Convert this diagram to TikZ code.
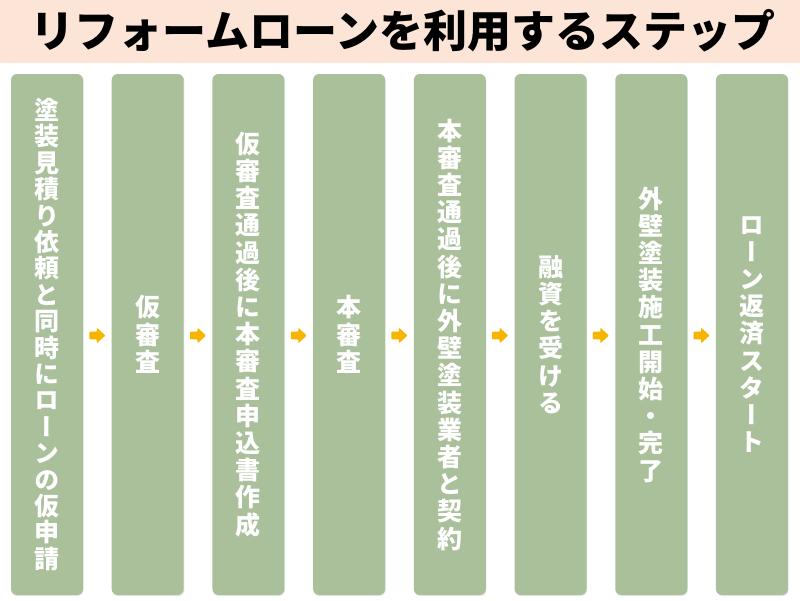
\documentclass[tikz,border=0pt]{standalone}
\usepackage{fontspec}
\usetikzlibrary{calc,shadows}
\newfontfamily\jpfont{Noto Sans CJK JP}
\newfontfamily\jpvfont[RawFeature=+vert]{Noto Sans CJK JP}
\definecolor{titlebg}{HTML}{FCE4D6}
\definecolor{boxgreen}{HTML}{A9C09B}
\definecolor{arroworange}{HTML}{F8B500}
\def\vchA#1{\ifx#1\relax\else\hbox to 1.1em{\hss#1\hss}\expandafter\vchA\fi}
\newcommand\vchars[2]{\vbox{\baselineskip=#1\lineskiplimit=-1000pt\lineskip=0pt\vchA#2\relax}}
\tikzset{
  stepbox/.style={draw=none, fill=boxgreen, rounded corners=6pt, minimum width=72pt, minimum height=521pt, inner sep=0pt, text=white, font=\jpvfont\bfseries\fontsize{25}{27}\selectfont, drop shadow={opacity=0.18, shadow xshift=0.6pt, shadow yshift=-1pt}},
  flowarrow/.style={fill=arroworange, draw=none, rounded corners=0.8pt},
  titletext/.style={font=\jpfont\bfseries\fontsize{44}{48}\selectfont, text=black, inner sep=0pt}
}
\begin{document}
\begin{tikzpicture}[x=1pt,y=-1pt]
\useasboundingbox (0,0) rectangle (800,600);
\fill[white] (0,0) rectangle (800,600);
\fill[titlebg] (0,0) rectangle (800,63);
\node[titletext] (title) at (403,31) {リフォームローンを利用するステップ};
\node[stepbox] (b1) at (47,334.5) {\vchars{26.4pt}{塗装見積り依頼と同時にローンの仮申請}};
\node[stepbox] (b2) at (147.71,334.5) {\vchars{27.2pt}{仮審査}};
\node[stepbox] (b3) at (248.42,334.5) {\vchars{27.2pt}{仮審査通過後に本審査申込書作成}};
\node[stepbox] (b4) at (349.13,334.5) {\vchars{27.2pt}{本審査}};
\node[stepbox] (b5) at (449.84,334.5) {\vchars{27.2pt}{本審査通過後に外壁塗装業者と契約}};
\node[stepbox] (b6) at (550.55,334.5) {\vchars{27.2pt}{融資を受ける}};
\node[stepbox] (b7) at (651.26,334.5) {\vchars{27.2pt}{外壁塗装施工開始・完了}};
\node[stepbox] (b8) at (751.97,334.5) {\vchars{27.2pt}{ローン返済スタート}};
\foreach \a/\b in {b1/b2,b2/b3,b3/b4,b4/b5,b5/b6,b6/b7,b7/b8}{
  \coordinate (m) at ($(\a.east)!0.5!(\b.west)+(0,1)$);
  \fill[flowarrow,shift={(m)}] (-8,-3.8) -- (-0.5,-3.8) -- (-0.5,-7.8) -- (8,0) -- (-0.5,7.8) -- (-0.5,3.8) -- (-8,3.8) -- cycle;
}
\end{tikzpicture}
\end{document}
